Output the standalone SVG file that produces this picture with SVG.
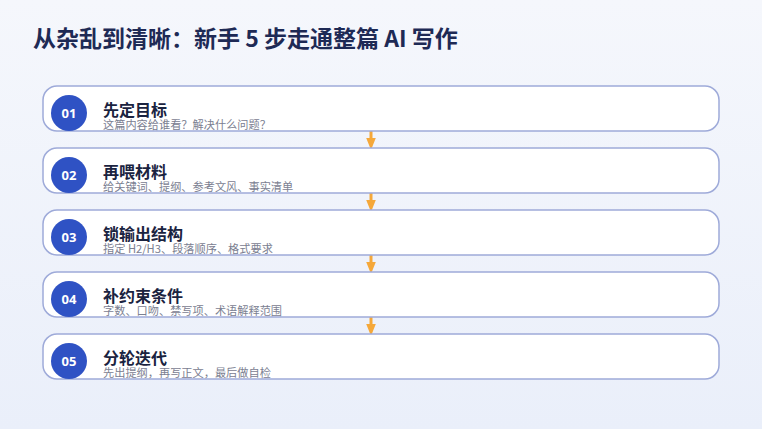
<svg xmlns="http://www.w3.org/2000/svg" width="762" height="429" viewBox="0 0 762 429">
<defs>
<linearGradient id="bg" x1="0" y1="0" x2="0" y2="1">
<stop offset="0" stop-color="#f5f7fc"/>
<stop offset="1" stop-color="#eaeffa"/>
</linearGradient>
<marker id="ah" viewBox="0 0 10 10" refX="5" refY="5" markerWidth="4" markerHeight="4" orient="auto" markerUnits="strokeWidth">
<path d="M0,1 L10,5 L0,9 z" fill="#f5a83a"/>
</marker>
<style>
.box{fill:#ffffff;stroke:#9eaad9;stroke-width:1.5}
.num{fill:#2f52c4}
.nt{font-family:"Noto Sans","Noto Sans CJK SC",sans-serif;font-size:13px;font-weight:700;fill:#ffffff;text-anchor:middle}
.h{font-family:"Noto Sans CJK SC",sans-serif;font-size:16px;font-weight:700;fill:#1a2340}
.s{font-family:"Noto Sans CJK SC",sans-serif;font-size:11.2px;fill:#7b8091}
.c{stroke:#f5a83a;stroke-width:3;fill:none}
</style>
</defs>
<rect width="762" height="429" fill="url(#bg)"/>
<text x="33" y="47" font-family="'Noto Sans CJK SC',sans-serif" font-size="23" font-weight="700" fill="#1e2a55">从杂乱到清晰：新手 5 步走通整篇 AI 写作</text>
<g id="connectors">
<line class="c" x1="371" y1="131" x2="371" y2="144" marker-end="url(#ah)"/>
<line class="c" x1="371" y1="193" x2="371" y2="206" marker-end="url(#ah)"/>
<line class="c" x1="371" y1="255" x2="371" y2="268" marker-end="url(#ah)"/>
<line class="c" x1="371" y1="317" x2="371" y2="330" marker-end="url(#ah)"/>
</g>
<g id="step1">
<rect class="box" x="43" y="86" width="676" height="45" rx="14"/>
<circle class="num" cx="69" cy="113" r="18"/>
<text class="nt" x="69" y="117.5">01</text>
<text class="h" x="103" y="116">先定目标</text>
<text class="s" x="103" y="128.5">这篇内容给谁看？解决什么问题？</text>
</g>
<g id="step2">
<rect class="box" x="43" y="148" width="676" height="45" rx="14"/>
<circle class="num" cx="69" cy="175" r="18"/>
<text class="nt" x="69" y="179.5">02</text>
<text class="h" x="103" y="178">再喂材料</text>
<text class="s" x="103" y="190.5">给关键词、提纲、参考文风、事实清单</text>
</g>
<g id="step3">
<rect class="box" x="43" y="210" width="676" height="45" rx="14"/>
<circle class="num" cx="69" cy="237" r="18"/>
<text class="nt" x="69" y="241.5">03</text>
<text class="h" x="103" y="240">锁输出结构</text>
<text class="s" x="103" y="252.5">指定 H2/H3、段落顺序、格式要求</text>
</g>
<g id="step4">
<rect class="box" x="43" y="272" width="676" height="45" rx="14"/>
<circle class="num" cx="69" cy="299" r="18"/>
<text class="nt" x="69" y="303.5">04</text>
<text class="h" x="103" y="302">补约束条件</text>
<text class="s" x="103" y="314.5">字数、口吻、禁写项、术语解释范围</text>
</g>
<g id="step5">
<rect class="box" x="43" y="334" width="676" height="45" rx="14"/>
<circle class="num" cx="69" cy="361" r="18"/>
<text class="nt" x="69" y="365.5">05</text>
<text class="h" x="103" y="364">分轮迭代</text>
<text class="s" x="103" y="376.5">先出提纲，再写正文，最后做自检</text>
</g>
</svg>
